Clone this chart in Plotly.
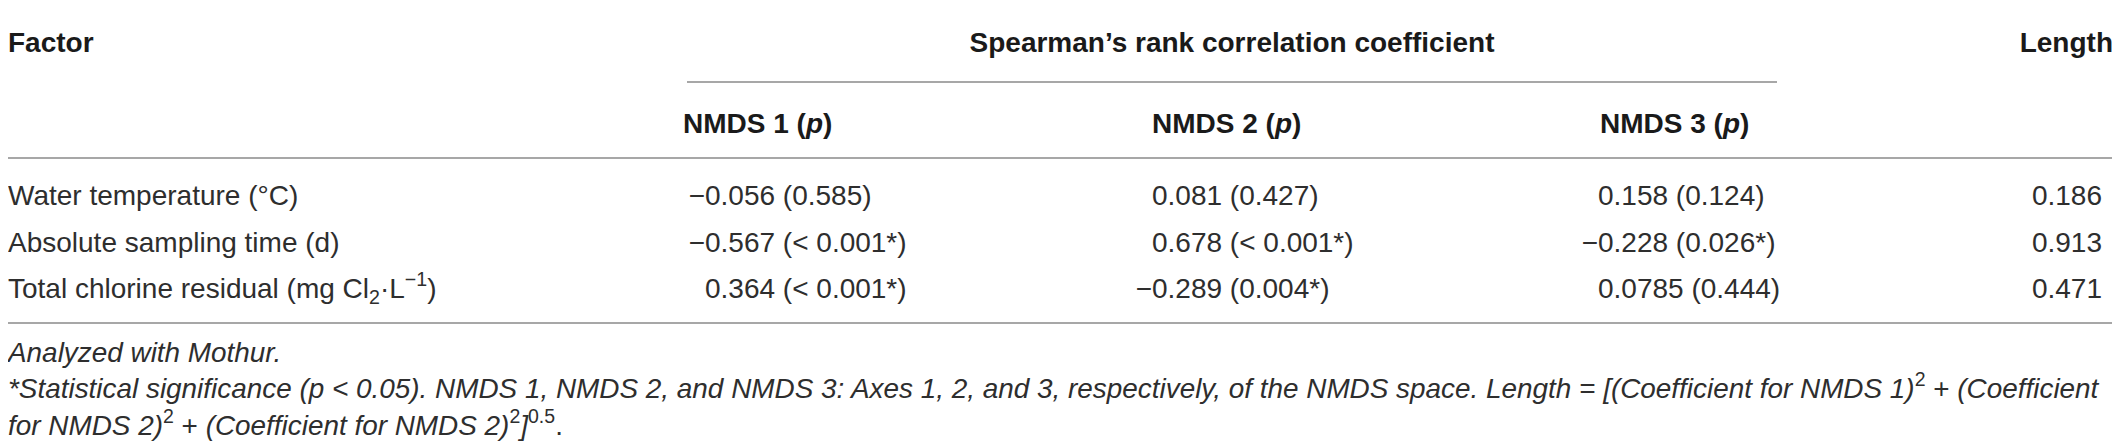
import plotly.graph_objects as go


# =====================================================
# DATA
# =====================================================

factors = [
    "Water temperature (°C)",
    "Absolute sampling time (d)",
    "Total chlorine residual (mg Cl<sub>2</sub>·L<sup>−1</sup>)",
]

nmds1_r = [-0.056, -0.567, 0.364]
nmds1_p = ["0.585", "&lt; 0.001*", "&lt; 0.001*"]

nmds2_r = [0.081, 0.678, -0.289]
nmds2_p = ["0.427", "&lt; 0.001*", "0.004*"]

nmds3_r = [0.158, -0.228, 0.0785]
nmds3_p = ["0.124", "0.026*", "0.444"]

length = [0.186, 0.913, 0.471]

col_headers = ["NMDS 1 (<i>p</i>)", "NMDS 2 (<i>p</i>)", "NMDS 3 (<i>p</i>)"]

notes = [
    "<i>Analyzed with Mothur.</i>",
    "<i>*Statistical significance (p &lt; 0.05). NMDS 1, NMDS 2, and NMDS 3: Axes 1, 2, and 3, "
    "respectively, of the NMDS space. Length = [(Coefficient for NMDS 1)</i><sup>2</sup> + <i>(Coefficient</i>",
    "<i>for NMDS 2)</i><sup>2</sup> + <i>(Coefficient for NMDS 2)</i><sup>2</sup><i>]</i><sup>0.5</sup>.",
]

# =====================================================
# LAYOUT CONSTANTS (page pixels)
# =====================================================

W, H = 2120, 447
OFF = 8  # page body margin, so axis units == page pixels
FS = 28
FS_NOTE = 27.9
FONT = "Liberation Sans"
TEXT = "#2e2e2e"
HEAD = "#1a1a1a"
RULE = "#8a8a8a"

x_factor = 8
x_digits = [705, 1152, 1598]
x_heads = [683, 1152, 1600]
x_length = 2102
x_length_head = 2113
x_span = (687, 1777)

y_head1 = 45
y_head2 = 126
y_rows = [198, 245, 291]
y_notes = [355, 391, 428]

rules = [6, 158, 323]

fig = go.Figure()


def text_trace(xs, ys, texts, pos, bold=False, size=FS):
    fig.add_trace(
        go.Scatter(
            x=xs,
            y=ys,
            text=[f"<b>{t}</b>" if bold else t for t in texts],
            mode="text",
            textposition=pos,
            textfont=dict(family=FONT, size=size, color=HEAD if bold else TEXT),
            cliponaxis=False,
            hoverinfo="skip",
            showlegend=False,
        )
    )


# =====================================================
# HEADER
# =====================================================

text_trace([x_factor], [y_head1], ["Factor"], "middle right", bold=True)
text_trace([sum(x_span) / 2], [y_head1], ["Spearman’s rank correlation coefficient"], "middle center", bold=True)
text_trace([x_length_head], [y_head1], ["Length"], "middle left", bold=True)
text_trace(x_heads, [y_head2] * 3, col_headers, "middle right", bold=True)

# =====================================================
# BODY
# =====================================================

text_trace([x_factor] * 3, y_rows, factors, "middle right")

for xd, r, p in zip(x_digits, [nmds1_r, nmds2_r, nmds3_r], [nmds1_p, nmds2_p, nmds3_p]):
    text_trace([xd] * 3, y_rows, [f"{abs(v):g} ({pv})" for v, pv in zip(r, p)], "middle right")
    text_trace([xd] * 3, y_rows, ["−" if v < 0 else "" for v in r], "middle left")

text_trace([x_length] * 3, y_rows, [f"{v:.3f}" for v in length], "middle left")

# =====================================================
# FOOTNOTES
# =====================================================

text_trace([x_factor] * 3, y_notes, notes, "middle right", size=FS_NOTE)

# =====================================================
# RULES
# =====================================================

shapes = [
    dict(type="line", xref="x", yref="y", x0=7, x1=2115, y0=y, y1=y,
         line=dict(color=RULE, width=1.5))
    for y in rules
]
shapes.append(
    dict(type="line", xref="x", yref="y", x0=x_span[0], x1=x_span[1], y0=82, y1=82,
         line=dict(color=RULE, width=1.5))
)

fig.update_layout(
    width=W,
    height=H,
    autosize=False,
    margin=dict(l=0, r=0, t=0, b=0),
    paper_bgcolor="white",
    plot_bgcolor="white",
    shapes=shapes,
    xaxis=dict(range=[OFF, W + OFF], visible=False, fixedrange=True),
    yaxis=dict(range=[H + OFF, OFF], visible=False, fixedrange=True),
    showlegend=False,
)

fig.write_html("out.html")
